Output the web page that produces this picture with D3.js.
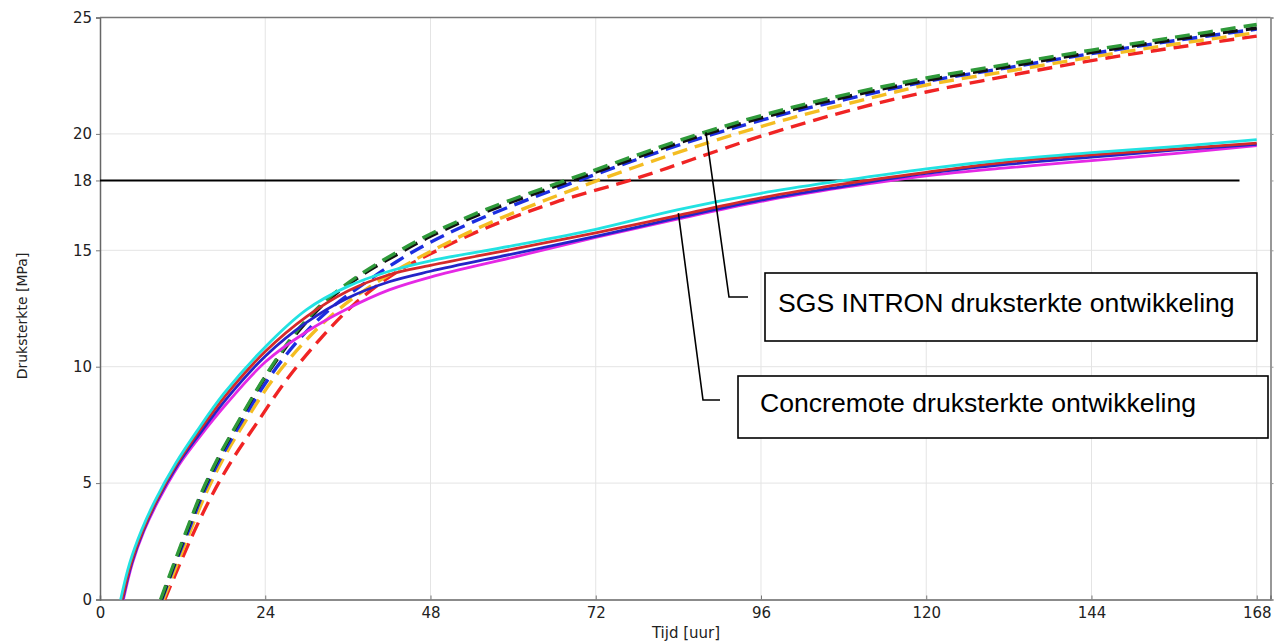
<!DOCTYPE html>
<html>
<head>
<meta charset="utf-8">
<script src="https://cdn.jsdelivr.net/npm/d3@7"></script>
<style>
  html, body { margin: 0; padding: 0; background: #fff; }
  svg { display: block; }
</style>
</head>
<body>
<svg id="chart" width="1274" height="643"></svg>
<script>
// Axis ticks
const xTicks = [0, 24, 48, 72, 96, 120, 144, 168];
const yTicks = [0, 5, 10, 15, 18, 20, 25];
const yGrid = [5, 10, 15, 20];
const referenceStrength = 18; // MPa threshold line

// Concremote (solid) – [hour, MPa]
const concCyan = [[3.0,0],[4.3,1.55],[6,2.95],[8,4.25],[11,5.85],[14,7.2],[18,8.85],[24,10.85],[30,12.45],[36,13.45],[42,14.1],[48,14.55],[60,15.2],[72,15.9],[84,16.75],[96,17.45],[108,18.0],[120,18.5],[132,18.9],[144,19.2],[156,19.45],[168,19.75]];
const concRed = [[3.2,0],[4.5,1.55],[6.2,2.95],[8.2,4.25],[11.2,5.85],[14.2,7.15],[18.2,8.75],[24,10.65],[30,12.15],[36,13.25],[42,13.95],[48,14.35],[60,15.05],[72,15.75],[84,16.5],[96,17.25],[108,17.85],[120,18.35],[132,18.8],[144,19.1],[156,19.35],[168,19.6]];
const concBlue = [[3.3,0],[4.6,1.55],[6.3,2.95],[8.3,4.25],[11.3,5.8],[14.3,7.05],[18.3,8.6],[24,10.45],[30,11.9],[36,12.95],[42,13.65],[48,14.1],[60,14.85],[72,15.6],[84,16.4],[96,17.15],[108,17.75],[120,18.3],[132,18.7],[144,19.0],[156,19.3],[168,19.55]];
const concMagenta = [[3.4,0],[4.7,1.55],[6.4,2.95],[8.4,4.2],[11.4,5.75],[14.5,7.0],[18.5,8.45],[24,10.2],[30,11.5],[36,12.5],[42,13.3],[48,13.85],[60,14.7],[72,15.55],[84,16.35],[96,17.1],[108,17.7],[120,18.2],[132,18.55],[144,18.85],[156,19.15],[168,19.5]];

// SGS INTRON (dashed) – [hour, MPa]
const sgsGreen = [[8.8,0],[10.8,1.6],[12.6,3.0],[14.6,4.5],[17,6.0],[20,7.6],[24,9.6],[28.5,11.5],[33,12.9],[38,14.0],[43,14.9],[48,15.7],[56,16.75],[70,18.25],[87,20.0],[100,21.1],[110,21.8],[120,22.4],[132,23.0],[144,23.6],[156,24.15],[168,24.7]];
const sgsBlack = [[8.9,0],[10.9,1.6],[12.7,3.0],[14.7,4.5],[17.1,6.0],[20.1,7.6],[24.1,9.6],[28.6,11.45],[33.1,12.85],[38.1,13.95],[43,14.8],[48,15.6],[56,16.65],[70,18.15],[87,19.9],[100,21.0],[110,21.7],[120,22.3],[132,22.9],[144,23.5],[156,24.05],[168,24.55]];
const sgsBlue = [[9.0,0],[11.0,1.6],[12.9,3.0],[14.9,4.5],[17.4,6.0],[20.5,7.6],[24.5,9.5],[29,11.2],[33.5,12.5],[38.5,13.6],[43,14.5],[48,15.35],[56,16.45],[70,18.05],[87,19.8],[100,20.9],[110,21.6],[120,22.25],[132,22.85],[144,23.45],[156,24.0],[168,24.5]];
const sgsOrange = [[9.2,0],[11.3,1.6],[13.2,3.0],[15.3,4.5],[17.8,6.0],[21,7.6],[25,9.4],[29.5,11.0],[34,12.3],[39,13.4],[44,14.3],[48,14.95],[56,16.1],[70,17.75],[87,19.5],[100,20.65],[110,21.4],[120,22.1],[132,22.7],[144,23.3],[156,23.85],[168,24.35]];
const sgsRed = [[9.4,0],[11.7,1.6],[13.8,3.0],[16.3,4.5],[19.2,6.0],[22.6,7.5],[27,9.4],[32,11.2],[37,12.7],[43,14.05],[48,14.85],[56,15.95],[66,17.05],[78,18.1],[86,18.9],[96,19.9],[110,21.1],[120,21.8],[132,22.5],[144,23.15],[156,23.7],[168,24.2]];

const dashedSeries = [
  { data: sgsRed, color: "#f02424" },
  { data: sgsOrange, color: "#f4bd22" },
  { data: sgsBlue, color: "#1c2ee0" },
  { data: sgsBlack, color: "#111111" },
  { data: sgsGreen, color: "#2f9a3a" }
];
const solidSeries = [
  { data: concMagenta, color: "#e528e5" },
  { data: concBlue, color: "#2424c8" },
  { data: concRed, color: "#d42a2a" },
  { data: concCyan, color: "#22e2e2" }
];

const svg = d3.select("#chart");
const plotLeft = 100, plotRight = 1270.5, plotTop = 17.5, plotBottom = 599.5;

const x = d3.scaleLinear().domain([0, 170]).range([plotLeft, plotRight]);
const y = d3.scaleLinear().domain([0, 25]).range([plotBottom, plotTop]);

const font = "'DejaVu Sans', sans-serif";

// grid
const grid = svg.append("g");
grid.selectAll("line.gx").data(xTicks.filter(d => d > 0)).join("line")
  .attr("x1", d => x(d)).attr("x2", d => x(d))
  .attr("y1", plotTop).attr("y2", plotBottom)
  .attr("stroke", "#e4e4e4").attr("stroke-width", 1);
grid.selectAll("line.gy").data(yGrid).join("line")
  .attr("x1", plotLeft).attr("x2", plotRight)
  .attr("y1", d => y(d)).attr("y2", d => y(d))
  .attr("stroke", "#e4e4e4").attr("stroke-width", 1);

// axes
const xAxis = d3.axisBottom(x).tickValues(xTicks).tickSize(-4).tickPadding(8).tickFormat(d3.format("d"));
const yAxis = d3.axisLeft(y).tickValues(yTicks).tickSize(4).tickPadding(4).tickFormat(d3.format("d"));

const gx = svg.append("g").attr("transform", `translate(0,${plotBottom})`).call(xAxis);
const gy = svg.append("g").attr("transform", `translate(${plotLeft},0)`).call(yAxis);
[gx, gy].forEach(g => {
  g.select(".domain").attr("stroke", "#666").attr("stroke-width", 1.5);
  g.selectAll(".tick line").attr("stroke", "#777");
  g.selectAll(".tick text").attr("fill", "#222").style("font-family", font).style("font-size", "15px");
});

// right ticks
const yRight = d3.axisRight(y).tickValues(yTicks).tickSize(3).tickFormat("");
const gr = svg.append("g").attr("transform", `translate(${plotRight},0)`).call(yRight);
gr.select(".domain").attr("stroke", "#777").attr("stroke-width", 1.5);
gr.selectAll(".tick line").attr("stroke", "#999");
// top frame
svg.append("line").attr("x1", plotLeft).attr("x2", plotRight).attr("y1", plotTop).attr("y2", plotTop)
  .attr("stroke", "#777").attr("stroke-width", 1.5);

// threshold line
svg.append("line")
  .attr("x1", x(0)).attr("x2", x(165.5))
  .attr("y1", y(referenceStrength)).attr("y2", y(referenceStrength))
  .attr("stroke", "#000").attr("stroke-width", 2);

const line = d3.line().x(d => x(d[0])).y(d => y(d[1])).curve(d3.curveCatmullRom.alpha(0.5));

svg.append("g").selectAll("path").data(dashedSeries).join("path")
  .attr("d", s => line(s.data))
  .attr("fill", "none")
  .attr("stroke", s => s.color)
  .attr("stroke-width", 3.4)
  .attr("stroke-dasharray", "15,8");

svg.append("g").selectAll("path").data(solidSeries).join("path")
  .attr("d", s => line(s.data))
  .attr("fill", "none")
  .attr("stroke", s => s.color)
  .attr("stroke-width", 2.8);

// axis titles
svg.append("text")
  .attr("x", 686).attr("y", 638)
  .attr("text-anchor", "middle")
  .style("font-family", font).style("font-size", "15px").attr("fill", "#222")
  .text("Tijd [uur]");
svg.append("text")
  .attr("transform", "translate(27,316) rotate(-90)")
  .attr("text-anchor", "middle")
  .style("font-family", font).style("font-size", "14px").attr("fill", "#222")
  .text("Druksterkte [MPa]");

// annotations
const annFont = "'Liberation Sans', Arial, sans-serif";
function annotate(pts, box, label) {
  svg.append("polyline")
    .attr("points", pts.map(p => p.join(",")).join(" "))
    .attr("fill", "none").attr("stroke", "#000").attr("stroke-width", 1.6);
  svg.append("rect")
    .attr("x", box[0]).attr("y", box[1]).attr("width", box[2]).attr("height", box[3])
    .attr("fill", "#fff").attr("stroke", "#000").attr("stroke-width", 1.6);
  svg.append("text")
    .attr("x", box[0] + box[4]).attr("y", box[1] + box[3] / 2 - 4)
    .attr("dominant-baseline", "central")
    .style("font-family", annFont).style("font-size", "26.6px").attr("fill", "#000")
    .text(label);
}
annotate([[x(88), y(20.07)], [729, 297], [748, 297]], [765, 273, 492, 68, 13], "SGS INTRON druksterkte ontwikkeling");
annotate([[x(84), y(16.6)], [703, 400], [720, 400]], [738, 376, 530, 62, 22], "Concremote druksterkte ontwikkeling");
</script>
</body>
</html>
